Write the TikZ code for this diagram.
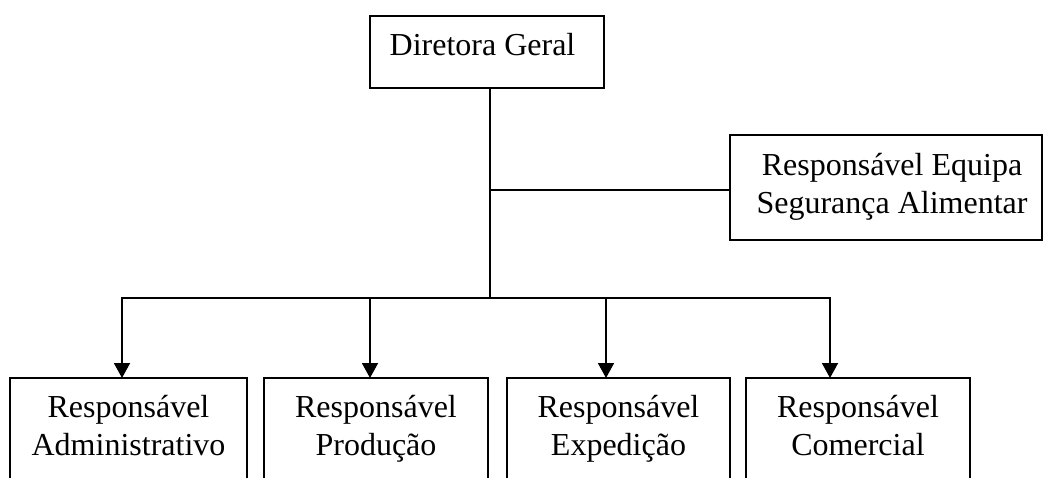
\documentclass[tikz,border=0pt]{standalone}
\usepackage{fontspec}
\setmainfont{Liberation Serif}
\usetikzlibrary{arrows.meta}
\begin{document}
\begin{tikzpicture}[x=1pt,y=-1pt,
  box/.style={draw, line width=1.8pt, inner sep=0pt, outer sep=0pt, anchor=north west},
  txt/.style={font=\fontsize{32}{37}\selectfont, inner sep=0pt, anchor=base},
  conn/.style={line width=1.8pt},
  arr/.style={line width=1.8pt, -{Triangle[width=16pt,length=15pt]}}]
\useasboundingbox (0,0) rectangle (1043,477);
\clip (0,0) rectangle (1043,477);
% boxes
\node[box, minimum width=234pt, minimum height=72pt] (dg) at (370,16) {};
\node[box, minimum width=312pt, minimum height=105pt] (eq) at (730,135) {};
\node[box, minimum width=237pt, minimum height=130pt] (adm) at (10,378) {};
\node[box, minimum width=224pt, minimum height=130pt] (prod) at (264,378) {};
\node[box, minimum width=223pt, minimum height=130pt] (exp) at (507,378) {};
\node[box, minimum width=224pt, minimum height=130pt] (com) at (746,378) {};
% texts
\node[txt] (dgt) at (482.5,55) {Diretora Geral};
\node[txt] (eqt1) at (892,175) {Responsável Equipa};
\node[txt] (eqt2) at (892,213) {Segurança Alimentar};
\node[txt] (admt1) at (128.5,417) {Responsável};
\node[txt] (admt2) at (128.5,455) {Administrativo};
\node[txt] (prodt1) at (376,417) {Responsável};
\node[txt] (prodt2) at (376,455) {Produção};
\node[txt] (expt1) at (618.5,417) {Responsável};
\node[txt] (expt2) at (618.5,455) {Expedição};
\node[txt] (comt1) at (858,417) {Responsável};
\node[txt] (comt2) at (858,455) {Comercial};
% connector coordinates
\coordinate (top) at (490,88);
\coordinate (mid) at (490,190);
\coordinate (bus) at (490,298);
\coordinate (b1) at (122,298);
\coordinate (b2) at (370,298);
\coordinate (b3) at (606,298);
\coordinate (b4) at (830,298);
% connectors
\draw[conn] (top) -- (bus);
\draw[conn] (mid) -- (mid -| eq.west);
\draw[conn, line cap=rect] (b1) -- (b4);
\draw[arr] (b1) -- (b1 |- adm.north);
\draw[arr] (b2) -- (b2 |- prod.north);
\draw[arr] (b3) -- (b3 |- exp.north);
\draw[arr] (b4) -- (b4 |- com.north);
\end{tikzpicture}
\end{document}
